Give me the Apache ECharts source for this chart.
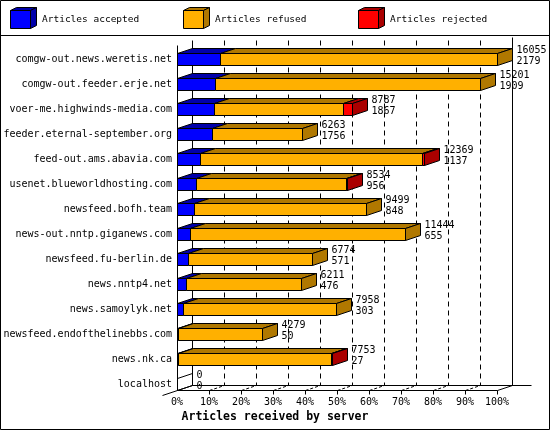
<!DOCTYPE html>
<html><head><meta charset="utf-8">
<script src="https://cdn.jsdelivr.net/npm/echarts@6/dist/echarts.min.js"></script>
<style>html,body{margin:0;padding:0;background:#fff}#c{width:550px;height:430px}</style>
</head><body><div id="c"></div>
<script>
const servers = ["comgw-out.news.weretis.net","comgw-out.feeder.erje.net","voer-me.highwinds-media.com","feeder.eternal-september.org","feed-out.ams.abavia.com","usenet.blueworldhosting.com","newsfeed.bofh.team","news-out.nntp.giganews.com","newsfeed.fu-berlin.de","news.nntp4.net","news.samoylyk.net","newsfeed.endofthelinebbs.com","news.nk.ca","localhost"];
const accepted = [2179,1909,1867,1756,1137,956,848,655,571,476,303,50,27,0];
const refused  = [13876,13292,6445,4507,11172,7548,8651,10789,6203,5735,7655,4229,7701,0];
const rejected = [0,0,475,0,60,30,0,0,0,0,0,0,25,0];
const seriesNames = ["Articles accepted","Articles refused","Articles rejected"];
const axisTitle = "Articles received by server";
const tickCount = 10;

const FRONT = ['#0000FF','#FFB000','#FF0000'];
const DARK  = ['#0000AA','#B07800','#AA0000'];
const FONT = '"DejaVu Sans Mono", monospace';
const DX = 15, DY = -5;

const totals = accepted.map((a,i)=>a+refused[i]+rejected[i]);
const maxTotal = Math.max(...totals);
const rows = servers.map((s,i)=>[i, accepted[i], refused[i], rejected[i]]);

const chart = echarts.init(document.getElementById('c'), null, {renderer:'canvas'});

function poly(points, fill, z){
  return {type:'polygon', shape:{points}, style:{fill:fill, stroke:'#000', lineWidth:1}, z2:z||0};
}
function line(x1,y1,x2,y2,dash){
  return {type:'line', shape:{x1,y1,x2,y2}, style:{stroke:'#000', lineWidth:1, lineDash: dash||null}};
}

function renderBar(params, api){
  const ci = api.value(0);
  const vals = [api.value(1), api.value(2), api.value(3)];
  const c = api.coord([0, ci]);
  const yc = c[1];
  const band = api.size([0,1])[1];
  const hh = band*0.25;
  const yt = Math.round(yc-hh)+0.5, yb = Math.round(yc+hh)+0.5;
  const children = [];
  let cum = 0, last = -1, xEnd = Math.round(c[0])+0.5;
  const segs = [];
  vals.forEach((v,k)=>{
    if(v>0){
      const xs = Math.round(api.coord([cum, ci])[0])+0.5;
      const xe = Math.round(api.coord([cum+v, ci])[0])+0.5;
      segs.push([xs,xe,k]);
      last = k; xEnd = xe;
    }
    cum += v;
  });
  segs.forEach(([xs,xe,k])=>{
    children.push(poly([[xs,yt],[xe,yt],[xe,yb],[xs,yb]], FRONT[k]));
    children.push(poly([[xs,yt],[xs+DX,yt+DY],[xe+DX,yt+DY],[xe,yt]], DARK[k]));
  });
  children.push(poly([[xEnd,yt],[xEnd+DX,yt+DY],[xEnd+DX,yb+DY],[xEnd,yb]], last>=0?DARK[last]:'rgba(0,0,0,0)'));
  const total = cum;
  children.push({type:'text', style:{text:String(total), x:xEnd+DX+4, y:yc-8.5, textVerticalAlign:'middle', font:'10px '+FONT, fill:'#000'}});
  children.push({type:'text', style:{text:String(vals[0]), x:xEnd+DX+4, y:yc+2.5, textVerticalAlign:'middle', font:'10px '+FONT, fill:'#000'}});
  return {type:'group', children};
}

function renderFrame(params, api){
  const n = servers.length;
  const band = api.size([0,1])[1];
  const hh = band*0.25;
  const yFirst = api.coord([0,0])[1];
  const yLast = api.coord([0,n-1])[1];
  const floorF = Math.round(yLast+hh)+0.5;
  const floorB = floorF + DY;
  const topB = Math.round(yFirst - band/2 + DY - 1.5)+0.5;
  const topF = Math.round(yFirst - band/2 - 1.5)+0.5;
  const xs = [];
  for(let k=0;k<=tickCount;k++) xs.push(Math.round(api.coord([maxTotal*k/tickCount, 0])[0])+0.5);
  const x0 = xs[0], x1 = xs[tickCount];
  const ch = [];
  for(let k=1;k<tickCount;k++){
    ch.push(line(xs[k]+DX, topB, xs[k]+DX, floorB, [5,4]));
    ch.push(line(xs[k], floorF, xs[k]+DX, floorB, [3,2]));
  }
  for(let k=1;k<=tickCount;k++) ch.push(line(xs[k], floorF, xs[k], floorF+4));
  ch.push(line(x0+DX, topB, x0+DX, floorB));
  ch.push(line(x1+DX, topB-3, x1+DX, floorB));
  ch.push(line(x0, topF, x0, floorF));
  ch.push(line(x0+DX, floorB, x1+DX+19, floorB));
  ch.push(line(x0, floorF, x1, floorF));
  ch.push(line(x0-DX, floorF-DY, x0+DX, floorB));
  ch.push(line(x1, floorF, x1+DX, floorB));
  return {type:'group', children: ch};
}

const legendX = [10, 183, 358];
const graphics = [
  {type:'rect', shape:{x:0.5,y:0.5,width:549,height:429}, style:{fill:'none', stroke:'#000', lineWidth:1}, silent:true},
  {type:'line', shape:{x1:0,y1:35.5,x2:550,y2:35.5}, style:{stroke:'#000', lineWidth:1}, silent:true},
  {type:'text', x:275, y:417, style:{text:axisTitle, font:'bold 11.5px '+FONT, fill:'#000', textAlign:'center', textVerticalAlign:'middle'}}
];
seriesNames.forEach((nm,i)=>{
  const x = legendX[i]+0.5, y = 10.5, w = 20, h = 18, dx = 6, dy = -3;
  graphics.push({type:'polygon', shape:{points:[[x,y],[x+dx,y+dy],[x+w+dx,y+dy],[x+w,y]]}, style:{fill:DARK[i], stroke:'#000'}});
  graphics.push({type:'polygon', shape:{points:[[x+w,y],[x+w+dx,y+dy],[x+w+dx,y+h+dy],[x+w,y+h]]}, style:{fill:DARK[i], stroke:'#000'}});
  graphics.push({type:'rect', shape:{x:x,y:y,width:w,height:h}, style:{fill:FRONT[i], stroke:'#000'}});
  graphics.push({type:'text', x:legendX[i]+32, y:20, style:{text:nm, font:'9.5px '+FONT, fill:'#000', textVerticalAlign:'middle'}});
});

chart.setOption({
  animation:false,
  backgroundColor:'#fff',
  grid:{left:177, right:53, top:46.5, height:350},
  xAxis:{type:'value', min:0, max:maxTotal, interval:maxTotal/tickCount,
    axisLine:{show:false}, axisTick:{show:false}, splitLine:{show:false},
    axisLabel:{margin:1, fontFamily:FONT, fontSize:10, color:'#000',
      formatter:v=>Math.round(v/maxTotal*100)+'%'}},
  yAxis:{type:'category', inverse:true, data:servers,
    axisLine:{show:false}, axisTick:{show:false}, splitLine:{show:false},
    axisLabel:{margin:5, fontFamily:FONT, fontSize:10, color:'#000'}},
  graphic: graphics,
  series:[
    {type:'custom', name:'frame', data:[[0,0]], encode:{x:0,y:1}, renderItem:renderFrame, z:1, silent:true},
    {type:'custom', name:'bars', data:rows, encode:{x:[1,2,3], y:0}, renderItem:renderBar, z:2, silent:true}
  ]
});
</script></body></html>
